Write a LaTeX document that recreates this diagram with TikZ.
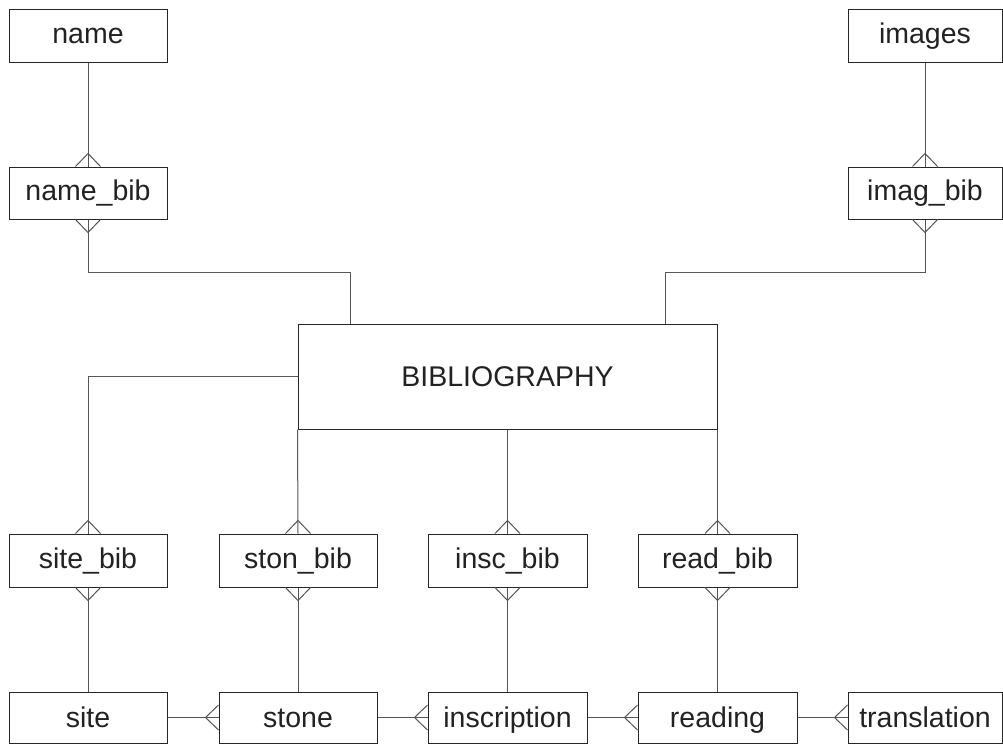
\documentclass[tikz,border=0pt]{standalone}
\usepackage{fontspec}
\setmainfont{Liberation Sans}
\usetikzlibrary{calc}
\definecolor{boxline}{HTML}{262626}
\definecolor{connline}{HTML}{555555}
\definecolor{txt}{HTML}{222222}

% crow's-foot ends at a box edge
\newcommand\footN[1]{\draw[conn] ($(#1)+(-12.5,0)$) -- ($(#1)+(0,-13)$) -- ($(#1)+(12.5,0)$);}
\newcommand\footS[1]{\draw[conn] ($(#1)+(-12.5,0)$) -- ($(#1)+(0,13)$) -- ($(#1)+(12.5,0)$);}
\newcommand\footW[1]{\draw[conn] ($(#1)+(0,-12.5)$) -- ($(#1)+(-13,0)$) -- ($(#1)+(0,12.5)$);}

\begin{document}
\begin{tikzpicture}[x=1pt,y=-1pt,
  entity/.style={draw=boxline, line width=1pt, fill=white, text=txt,
    minimum width=158pt, minimum height=53pt, inner sep=0pt,
    text height=20.5pt, text depth=5pt,
    font=\fontsize{28.5}{30}\selectfont},
  narrow/.style={minimum width=154pt},
  lowrow/.style={minimum height=51pt, text depth=0.5pt},
  conn/.style={draw=connline, line width=1pt}]
\useasboundingbox (0,0) rectangle (1003,744);

% entities
\node[entity] (name) at (88,35.5) {name};
\node[entity, minimum height=52pt] (nameb) at (88,193) {name\_bib};
\node[entity, narrow] (images) at (925,35.5) {images};
\node[entity, narrow, minimum height=52pt] (imagb) at (925,193) {imag\_bib};
\node[entity, minimum width=419pt, minimum height=105pt, text depth=1.5pt] (bib) at (507.5,376.5) {BIBLIOGRAPHY};

\node[entity] (siteb) at (88,560.5) {site\_bib};
\node[entity] (stonb) at (298,560.5) {ston\_bib};
\node[entity, minimum width=159pt] (inscb) at (507.5,560.5) {insc\_bib};
\node[entity, minimum width=159pt] (readb) at (717.5,560.5) {read\_bib};

\node[entity, lowrow] (site) at (88,717.5) {site};
\node[entity, lowrow] (stone) at (298,717.5) {stone};
\node[entity, lowrow, minimum width=159pt] (inscription) at (507.5,717.5) {inscription};
\node[entity, lowrow, minimum width=159pt] (reading) at (717.5,717.5) {reading};
\node[entity, lowrow, narrow] (translation) at (925,717.5) {translation};

% bends of the upper connectors
\coordinate (nj) at (350,272);
\coordinate (ij) at (665,272);

% connectors
\draw[conn] (name.south) -- (nameb.north);
\draw[conn] (images.south) -- (imagb.north);
\draw[conn] (nameb.south) |- (nj) -- (nj |- bib.north);
\draw[conn] (imagb.south) |- (ij) -- (ij |- bib.north);
\draw[conn] (bib.west) -| (siteb.north);
\draw[conn] (bib.south west) -- (stonb.north);
\draw[conn] (bib.south) -- (inscb.north);
\draw[conn] (bib.south east) -- (readb.north);
\draw[conn] (siteb.south) -- (site.north);
\draw[conn] (stonb.south) -- (stone.north);
\draw[conn] (inscb.south) -- (inscription.north);
\draw[conn] (readb.south) -- (reading.north);
\draw[conn] (site.east) -- (stone.west);
\draw[conn] (stone.east) -- (inscription.west);
\draw[conn] (inscription.east) -- (reading.west);
\draw[conn] (reading.east) -- (translation.west);

% many-side ends
\footN{nameb.north}
\footS{nameb.south}
\footN{imagb.north}
\footS{imagb.south}
\footN{siteb.north}
\footS{siteb.south}
\footN{stonb.north}
\footS{stonb.south}
\footN{inscb.north}
\footS{inscb.south}
\footN{readb.north}
\footS{readb.south}
\footW{stone.west}
\footW{inscription.west}
\footW{reading.west}
\footW{translation.west}
\end{tikzpicture}
\end{document}
